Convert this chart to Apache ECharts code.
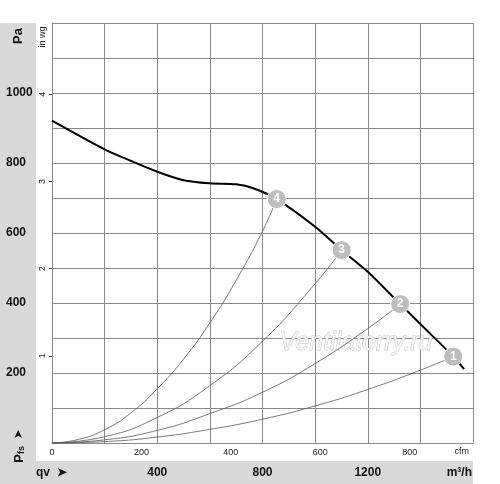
<!DOCTYPE html>
<html><head><meta charset="utf-8">
<script src="https://cdn.jsdelivr.net/npm/echarts@6/dist/echarts.min.js"></script>
<style>html,body{margin:0;padding:0;background:#fff}#c{width:500px;height:484px}</style>
</head><body><div id="c"></div>
<script>
// Airflow (m³/h) vs static pressure (Pa)
const fanCurve = [[0,921],[200,839],[300,806],[400,775],[500,751],[600,742],[700,739],[765,728],[854,697],[1000,618],[1101,551],[1200,489],[1323,397],[1400,340],[1525,247],[1566,211]];
const opPointNames = ['4','3','2','1'];
const opPoints = [[854,697],[1101,551],[1323,397],[1525,247]];
const sys4 = [[0,0],[100,10],[200,38],[300,86],[400,155],[500,240],[600,343],[700,465],[800,605],[854,697]];
const sys3 = [[0,0],[200,18],[400,73],[600,164],[800,291],[1000,455],[1101,551]];
const sys2 = [[0,0],[200,9],[400,36],[600,84],[800,145],[1000,227],[1200,327],[1323,397]];
const sys1 = [[0,0],[200,4],[400,17],[600,39],[800,68],[1000,106],[1200,153],[1400,208],[1525,247]];
const paTicks = [200,400,600,800,1000];
const m3hTicks = [400,800,1200];
const wgTicks = [1,2,3,4];

const GRID = {left:52, top:23, width:421, height:420};
const gridColor = '#8a8a8a';
const chart = echarts.init(document.getElementById('c'), null, {renderer:'canvas'});
const sysStyle = {type:'line', smooth:true, showSymbol:false, symbol:'none', lineStyle:{color:'#555', width:0.8}, z:3};
chart.setOption({
  animation:false,
  backgroundColor:'#fff',
  graphic:[
    {type:'rect', shape:{x:0,y:23,width:36,height:461}, style:{fill:'#d9d9d9'}, z:-10},
    {type:'rect', shape:{x:0,y:461,width:473,height:23}, style:{fill:'#d9d9d9'}, z:-10},
    {type:'text', x:18, y:36, rotation:Math.PI/2, style:{text:'Pa', font:'bold 13px Arial, "Liberation Sans"', fill:'#111', align:'center', verticalAlign:'middle'}},
    {type:'text', x:43, y:37, rotation:Math.PI/2, style:{text:'in wg', font:'9px Arial, "Liberation Sans"', fill:'#222', align:'center', verticalAlign:'middle'}},
    {type:'text', x:19, y:446, rotation:Math.PI/2, style:{text:'{p|P}{s|fs}  {a|➤}', align:'center', verticalAlign:'middle',
      rich:{p:{font:'bold 13px Arial, "Liberation Sans"', fill:'#111'}, s:{font:'bold 9px Arial, "Liberation Sans"', fill:'#111', verticalAlign:'bottom', padding:[5,0,0,0]}, a:{font:'bold 12px "DejaVu Sans"', fill:'#111'}}}},
    {type:'text', x:36, y:473, style:{text:'qv  ➤', font:'bold 12px Arial, "Liberation Sans"', fill:'#111', align:'left', verticalAlign:'middle'}},
    {type:'text', x:472, y:473, style:{text:'m³/h', font:'bold 12px Arial, "Liberation Sans"', fill:'#111', align:'right', verticalAlign:'middle'}},
    {type:'text', x:469, y:452, style:{text:'cfm', font:'9px Arial, "Liberation Sans"', fill:'#222', align:'right', verticalAlign:'middle'}},
    {type:'text', x:356, y:343, z:1, style:{text:'Ventilatorry.ru', font:'italic 25px Arial, "Liberation Sans"', fill:'#f5f5f5', stroke:'#c4c4c4', lineWidth:0.8, align:'center', verticalAlign:'middle'}}
  ],
  grid:{left:GRID.left, top:GRID.top, width:GRID.width, height:GRID.height, containLabel:false, show:false},
  xAxis:[
    {type:'value', min:0, max:1600, interval:200, position:'bottom',
     axisLine:{show:true, onZero:false, lineStyle:{color:gridColor, width:1}}, axisTick:{show:false},
     splitLine:{show:true, lineStyle:{color:gridColor, width:1}},
     axisLabel:{margin:24, fontSize:12, fontWeight:'bold', color:'#111', fontFamily:'Arial, "Liberation Sans"',
       formatter:v=> m3hTicks.includes(v) ? String(v) : ''}},
    {type:'value', min:0, max:1600*0.588578, interval:200, position:'bottom',
     axisLine:{show:false}, axisTick:{show:false}, splitLine:{show:false},
     axisLabel:{margin:5, fontSize:9, color:'#222', fontFamily:'Arial, "Liberation Sans"', showMaxLabel:false,
       formatter:v=> v<=800 ? String(v) : ''}}
  ],
  yAxis:[
    {type:'value', min:0, max:1200, interval:100, position:'left',
     axisLine:{show:true, onZero:false, lineStyle:{color:gridColor, width:1}}, axisTick:{show:false},
     splitLine:{show:true, lineStyle:{color:gridColor, width:1}},
     axisLabel:{margin:46, align:'left', fontSize:12, fontWeight:'bold', color:'#111', fontFamily:'Arial, "Liberation Sans"',
       formatter:v=> paTicks.includes(v) ? String(v) : ''}},
    {type:'value', min:0, max:1200/249.089, interval:1, position:'left',
     axisLine:{show:false}, splitLine:{show:false},
     axisTick:{show:true, length:3, lineStyle:{color:'#444'}},
     axisLabel:{margin:5, rotate:90, fontSize:9, color:'#222', fontFamily:'Arial, "Liberation Sans"', showMaxLabel:false, showMinLabel:false,
       formatter:v=> wgTicks.includes(v) ? String(v) : ''}}
  ],
  series:[
    Object.assign({name:'sys4', data:sys4}, sysStyle),
    Object.assign({name:'sys3', data:sys3}, sysStyle),
    Object.assign({name:'sys2', data:sys2}, sysStyle),
    Object.assign({name:'sys1', data:sys1}, sysStyle),
    {name:'fan', type:'line', smooth:0.3, showSymbol:false, symbol:'none', data:fanCurve, lineStyle:{color:'#000', width:2}, z:4},
    {name:'points', type:'scatter', z:6, symbolSize:19,
     data:opPoints.map((p,i)=>({value:p, name:opPointNames[i]})),
     itemStyle:{color:'#bdbdbd', borderColor:'#fff', borderWidth:1, opacity:1},
     label:{show:true, position:'inside', formatter:p=>p.name, color:'#fff', fontWeight:'bold', fontSize:12, fontFamily:'Arial, "Liberation Sans"'}}
  ]
});
</script></body></html>
